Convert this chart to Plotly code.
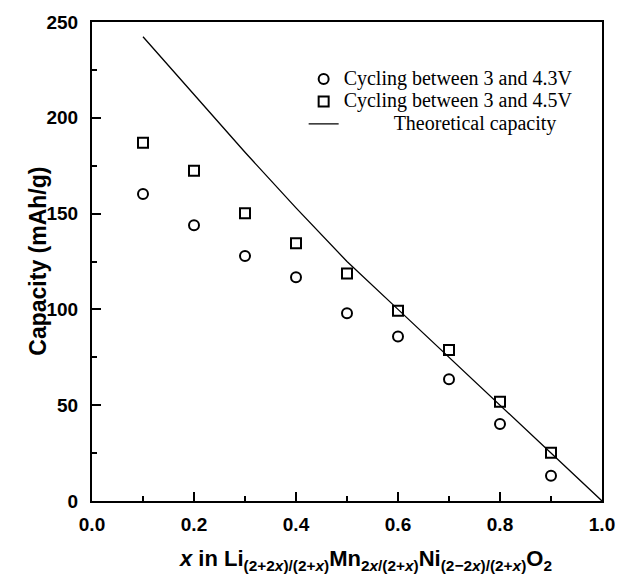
import plotly.graph_objects as go

# Composition parameter x
x_values = [0.1, 0.2, 0.3, 0.4, 0.5, 0.6, 0.7, 0.8, 0.9]
# Discharge capacity (mAh/g) for the two voltage windows
cap_43V = [160.2, 143.9, 127.9, 116.8, 98.0, 85.8, 63.5, 40.2, 13.2]
cap_45V = [187.0, 172.4, 150.2, 134.5, 118.8, 99.3, 78.8, 51.8, 25.2]

# Theoretical capacity curve
x_theory = [0.1, 0.2, 0.3, 0.4, 0.5, 0.6, 0.7, 0.8, 0.9, 1.0]
cap_theory = [242.3, 212.0, 182.0, 153.0, 125.0, 100.0, 75.0, 50.0, 25.0, 0.0]

x_ticks = [0.0, 0.2, 0.4, 0.6, 0.8, 1.0]
x_tick_text = ["0.0", "0.2", "0.4", "0.6", "0.8", "1.0"]
y_ticks = [0, 50, 100, 150, 200, 250]

sans = "Liberation Sans, Arial, Helvetica, sans-serif"
serif = "Liberation Serif, Times New Roman, serif"


def legend_label(text, indent=0):
    # larger label text inside a compact legend row
    return ("<span style='font-size:20px'>" + "\u00a0" * indent + text + "</span>")


fig = go.Figure()

fig.add_trace(go.Scatter(
    x=x_values, y=cap_43V, mode="markers",
    name=legend_label("Cycling between 3 and 4.3V"),
    marker=dict(symbol="circle-open", size=10, color="black",
                line=dict(color="black", width=2)),
))
fig.add_trace(go.Scatter(
    x=x_values, y=cap_45V, mode="markers",
    name=legend_label("Cycling between 3 and 4.5V"),
    marker=dict(symbol="square-open", size=10, color="black",
                line=dict(color="black", width=2)),
))
fig.add_trace(go.Scatter(
    x=x_theory, y=cap_theory, mode="lines",
    name=legend_label("Theoretical capacity", indent=10),
    line=dict(color="black", width=1.3),
))

axis_common = dict(
    showgrid=False, zeroline=False,
    showline=True, linecolor="black", linewidth=2, mirror=True,
    ticks="inside", ticklen=9, tickwidth=2, tickcolor="black",
    tickfont=dict(family=sans, size=19, color="black", weight="bold"),
)

fig.update_xaxes(
    range=[0, 1], tickvals=x_ticks, ticktext=x_tick_text,
    minor=dict(dtick=0.1, ticks="inside", ticklen=5, tickwidth=1.5, tickcolor="black"),
    ticklabelstandoff=5,
    **axis_common,
)
fig.update_yaxes(
    range=[0, 250], tickvals=y_ticks,
    minor=dict(dtick=25, ticks="inside", ticklen=5, tickwidth=1.5, tickcolor="black"),
    ticklabelstandoff=8,
    **axis_common,
)

fig.add_annotation(
    xref="paper", yref="paper", x=0.536, y=-0.089,
    xanchor="center", yanchor="top", showarrow=False,
    text="<i>x</i> in Li<sub>(2+2<i>x</i>)/(2+<i>x</i>)</sub>"
         "Mn<sub>2<i>x</i>/(2+<i>x</i>)</sub>"
         "Ni<sub>(2\u22122<i>x</i>)/(2+<i>x</i>)</sub>O<sub>2</sub>",
    font=dict(family=sans, size=22, color="black", weight="bold"),
)
fig.add_annotation(
    xref="paper", yref="paper", x=-0.1075, y=0.5,
    xanchor="center", yanchor="middle", showarrow=False, textangle=-90,
    text="Capacity (mAh/g)",
    font=dict(family=sans, size=23, color="black", weight="bold"),
)

fig.update_layout(
    width=627, height=577,
    margin=dict(l=92, r=15, t=22, b=76),
    paper_bgcolor="white", plot_bgcolor="white",
    showlegend=True,
    legend=dict(
        x=0.415, y=0.915, xanchor="left", yanchor="top",
        bgcolor="rgba(0,0,0,0)", borderwidth=0,
        font=dict(family=serif, size=15, color="black"),
        tracegroupgap=0,
    ),
)

fig.write_html("out.html")
